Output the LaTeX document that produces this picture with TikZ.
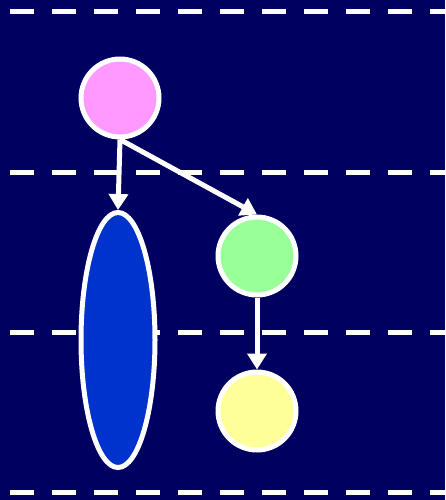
\documentclass[tikz,border=0pt]{standalone}
\usetikzlibrary{arrows.meta,shapes.geometric}
\definecolor{bgnavy}{RGB}{0,0,96}
\definecolor{pinkfill}{RGB}{255,153,255}
\definecolor{bluefill}{RGB}{0,51,204}
\definecolor{greenfill}{RGB}{153,255,153}
\definecolor{yellowfill}{RGB}{255,255,153}
\tikzset{
  lane/.style={white,line width=5pt,dash pattern=on 24pt off 18pt},
  roundnode/.style={circle,draw=white,line width=5pt,minimum size=78pt,inner sep=0pt},
  tallnode/.style={ellipse,draw=white,line width=5pt,minimum width=74pt,minimum height=255pt,inner sep=0pt},
  link/.style={white,line width=5pt,-{Triangle[width=19pt,length=16pt]}}
}
\begin{document}
\begin{tikzpicture}[x=1pt,y=-1pt]
\fill[bgnavy] (0,0) rectangle (445,500);
\useasboundingbox (0,0) rectangle (445,500);
\foreach \yy/\nm in {12/a,172/b,332/c,492/d}{
  \coordinate (l\nm) at (10,\yy);
  \coordinate (r\nm) at (445,\yy);
  \draw[lane] (l\nm) -- (r\nm);
}
\node[roundnode,fill=pinkfill] (pink) at (120,98) {};
\node[tallnode,fill=bluefill] (blue) at (118,340) {};
\node[roundnode,fill=greenfill] (green) at (257,256) {};
\node[roundnode,fill=yellowfill] (yellow) at (257,411) {};
\draw[link] (pink.south) -- (blue.north);
\draw[link] (pink.south) -- (green.north);
\draw[link] (green.south) -- (yellow.north);
\end{tikzpicture}
\end{document}
